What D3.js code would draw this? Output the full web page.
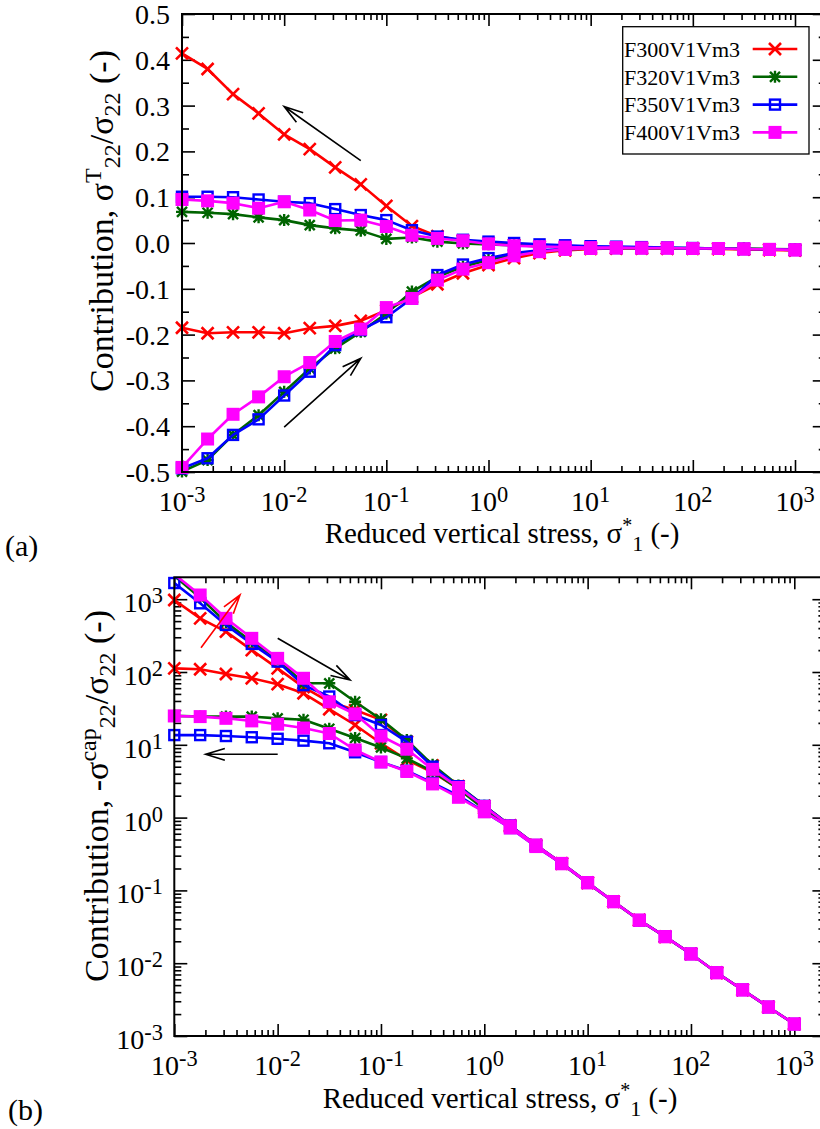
<!DOCTYPE html>
<html><head><meta charset="utf-8">
<script src="https://cdn.jsdelivr.net/npm/d3@7"></script>
<style>
body{margin:0;background:#fff}
svg{display:block}
text{font-family:"Liberation Serif","Times New Roman",serif;fill:#000}
</style>
</head><body>
<svg id="c" width="820" height="1129"></svg>
<script>
// ---------------- data ----------------
const xValues = [0.001,0.00178,0.00316,0.00562,0.01,0.0178,0.0316,0.0562,0.1,0.178,0.316,0.562,1,1.78,3.16,5.62,10,17.8,31.6,56.2,100,178,316,562,1000];
const seriesNames = ["F300V1Vm3","F320V1Vm3","F350V1Vm3","F400V1Vm3"];
const xTickExponents = [-3,-2,-1,0,1,2,3];
const topYTicks = [0.5,0.4,0.3,0.2,0.1,0.0,-0.1,-0.2,-0.3,-0.4,-0.5];
const botYTickExponents = [3,2,1,0,-1,-2,-3];

// (a) sigma^T_22 / sigma_22 : loading branch (stress increasing) and unloading branch (stress decreasing), listed at xValues
const topF300Load   = [-0.185,-0.197,-0.195,-0.195,-0.197,-0.186,-0.181,-0.170,-0.147,-0.118,-0.090,-0.066,-0.048,-0.033,-0.022,-0.016,-0.013,-0.012,-0.012,-0.012,-0.012,-0.013,-0.014,-0.015,-0.016];
const topF300Unload = [0.414,0.380,0.325,0.283,0.237,0.205,0.165,0.128,0.081,0.037,0.015,0.005,0.000,-0.004,-0.007,-0.009,-0.010,-0.011,-0.011,-0.012,-0.012,-0.013,-0.014,-0.015,-0.016];
const topF320Load   = [-0.499,-0.474,-0.419,-0.376,-0.325,-0.274,-0.230,-0.194,-0.154,-0.106,-0.074,-0.052,-0.037,-0.025,-0.018,-0.014,-0.012,-0.011,-0.011,-0.011,-0.011,-0.012,-0.012,-0.013,-0.014];
const topF320Unload = [0.068,0.066,0.063,0.056,0.050,0.039,0.032,0.027,0.009,0.012,0.003,-0.001,-0.003,-0.005,-0.007,-0.008,-0.009,-0.010,-0.010,-0.011,-0.011,-0.012,-0.012,-0.013,-0.014];
const topF350Load   = [-0.492,-0.470,-0.419,-0.385,-0.333,-0.281,-0.223,-0.190,-0.162,-0.121,-0.070,-0.047,-0.033,-0.022,-0.016,-0.013,-0.012,-0.011,-0.011,-0.011,-0.012,-0.012,-0.013,-0.014,-0.015];
const topF350Unload = [0.101,0.101,0.100,0.095,0.090,0.087,0.074,0.061,0.050,0.028,0.014,0.007,0.003,0.000,-0.003,-0.005,-0.007,-0.008,-0.009,-0.010,-0.011,-0.012,-0.013,-0.014,-0.015];
const topF400Load   = [-0.490,-0.428,-0.374,-0.336,-0.292,-0.261,-0.215,-0.188,-0.141,-0.121,-0.081,-0.057,-0.043,-0.028,-0.019,-0.014,-0.012,-0.011,-0.011,-0.011,-0.012,-0.012,-0.013,-0.014,-0.015];
const topF400Unload = [0.095,0.092,0.087,0.076,0.090,0.072,0.049,0.050,0.036,0.017,0.010,0.005,-0.002,-0.006,-0.008,-0.009,-0.010,-0.010,-0.011,-0.011,-0.012,-0.012,-0.013,-0.014,-0.015];

// (b) -sigma^cap_22 / sigma_22
const botF300Load   = [975,546,358,200,112,62,39,30,22,11,5.2,2.7,1.45,0.78,0.42,0.235,0.128,0.070,0.039,0.0232,0.0134,0.0074,0.0043,0.0025,0.00146];
const botF300Unload = [112,109,94,82,68,51,30.8,18.7,10.5,6.2,4.2,2.5,1.35,0.75,0.41,0.233,0.127,0.070,0.039,0.0231,0.0134,0.0074,0.0043,0.0025,0.00146];
const botF320Load   = [2100,1050,480,260,150,70,70,39,22.4,11.6,5.3,2.75,1.45,0.78,0.42,0.235,0.128,0.070,0.039,0.0232,0.0134,0.0074,0.0043,0.0025,0.00146];
const botF320Unload = [25,24.5,24.4,24.4,23.1,22.1,16.6,12.4,9.2,6.5,4.3,2.5,1.3,0.74,0.41,0.233,0.127,0.070,0.039,0.0231,0.0134,0.0074,0.0043,0.0025,0.00146];
const botF350Load   = [1668,878,443,243,139,66,46,25.6,18.7,11.0,5.0,2.7,1.45,0.78,0.42,0.235,0.128,0.070,0.039,0.0232,0.0134,0.0074,0.0043,0.0025,0.00146];
const botF350Unload = [13.6,13.6,13.2,12.7,12.1,11.4,10.5,7.9,5.8,4.4,3.0,2.0,1.2,0.72,0.40,0.232,0.127,0.070,0.039,0.0231,0.0134,0.0074,0.0043,0.0025,0.00146];
const botF400Load   = [2200,1142,546,290,154,82,39,26.5,13.2,8.7,4.6,2.6,1.42,0.77,0.42,0.235,0.128,0.070,0.039,0.0232,0.0134,0.0074,0.0043,0.0025,0.00146];
const botF400Unload = [24.9,24.4,23.1,21.3,19.2,17.0,14.3,8.5,5.8,4.3,2.9,1.9,1.2,0.72,0.40,0.232,0.127,0.070,0.039,0.0231,0.0134,0.0074,0.0043,0.0025,0.00146];

const topLoads = [topF300Load,topF320Load,topF350Load,topF400Load];
const topUnloads = [topF300Unload,topF320Unload,topF350Unload,topF400Unload];
const botLoads = [botF300Load,botF320Load,botF350Load,botF400Load];
const botUnloads = [botF300Unload,botF320Unload,botF350Unload,botF400Unload];

// ---------------- styles ----------------
const colors = ["#ff0000","#006400","#0000ff","#ff00ff"];
const markerTypes = ["x","star","square","filled"];

const svg = d3.select("#c");

function drawMarker(g, type, color, cx, cy){
  if(type==="x"){
    const s=6;
    g.append("path").attr("d",`M${cx-s},${cy-s}L${cx+s},${cy+s}M${cx-s},${cy+s}L${cx+s},${cy-s}`)
      .attr("stroke",color).attr("stroke-width",2.6).attr("fill","none");
  } else if(type==="star"){
    const s=5;
    g.append("path").attr("d",`M${cx-s},${cy-s}L${cx+s},${cy+s}M${cx-s},${cy+s}L${cx+s},${cy-s}M${cx-s-1},${cy}L${cx+s+1},${cy}M${cx},${cy-s-1}L${cx},${cy+s+1}`)
      .attr("stroke",color).attr("stroke-width",2.4).attr("fill","none");
  } else if(type==="square"){
    const s=5;
    g.append("rect").attr("x",cx-s).attr("y",cy-s).attr("width",2*s).attr("height",2*s)
      .attr("stroke",color).attr("stroke-width",2.4).attr("fill","none");
  } else {
    const s=6.5;
    g.append("rect").attr("x",cx-s).attr("y",cy-s).attr("width",2*s).attr("height",2*s)
      .attr("fill",color);
  }
}

function supText(sel, base, sup){
  sel.text(base);
  sel.append("tspan").attr("dy",-9).attr("font-size","0.8em").text(sup);
}

function arrow(g, x1,y1,x2,y2,color){
  const L=20, a=17*Math.PI/180;
  const ang=Math.atan2(y1-y2,x1-x2);
  const p1=[x2+L*Math.cos(ang+a), y2+L*Math.sin(ang+a)];
  const p2=[x2+L*Math.cos(ang-a), y2+L*Math.sin(ang-a)];
  g.append("path").attr("d",`M${x1},${y1}L${x2},${y2}M${p1[0]},${p1[1]}L${x2},${y2}L${p2[0]},${p2[1]}`)
    .attr("stroke",color).attr("stroke-width",1.6).attr("fill","none");
}

function drawPanel(cfg){
  const {x, y, left, right, top, bottom, loads, unloads, yTicks, yMinor, clipId} = cfg;
  const g = svg.append("g");
  svg.append("clipPath").attr("id",clipId).append("rect")
    .attr("x",left).attr("y",top).attr("width",right-left).attr("height",bottom-top);

  const xMajor = xTickExponents.map(e=>Math.pow(10,e));
  const xMinor = [];
  for(let e=-3;e<=3;e++) for(let m=2;m<=9;m++){ const v=m*Math.pow(10,e); if(x(v)<right-1) xMinor.push(v); }
  const axB = g.append("g").attr("transform",`translate(0,${bottom})`);
  axB.call(d3.axisBottom(x).tickValues(xMajor).tickSize(-12).tickFormat(""));
  axB.append("g").call(d3.axisBottom(x).tickValues(xMinor).tickSize(-6).tickFormat(""));
  const axT = g.append("g").attr("transform",`translate(0,${top})`);
  axT.call(d3.axisTop(x).tickValues(xMajor).tickSize(-12).tickFormat(""));
  axT.append("g").call(d3.axisTop(x).tickValues(xMinor).tickSize(-6).tickFormat(""));
  const axL = g.append("g").attr("transform",`translate(${left},0)`);
  axL.call(d3.axisLeft(y).tickValues(yTicks).tickSize(-13).tickFormat(""));
  axL.append("g").call(d3.axisLeft(y).tickValues(yMinor).tickSize(-7).tickFormat(""));
  const axR = g.append("g").attr("transform",`translate(${right},0)`);
  axR.call(d3.axisRight(y).tickValues(yTicks).tickSize(-13).tickFormat(""));
  axR.append("g").call(d3.axisRight(y).tickValues(yMinor).tickSize(-7).tickFormat(""));
  g.selectAll(".domain").remove();
  g.selectAll(".tick line").attr("stroke","#000").attr("stroke-width",1.6);

  const line = d3.line().x(d=>x(d[0])).y(d=>y(d[1]));
  const [d0,d1] = y.domain();
  const lo=Math.min(d0,d1), hi=Math.max(d0,d1);
  const yTop = y.invert(top);
  for(let s=0;s<4;s++){
    const pts = xValues.map((xv,i)=>[xv,loads[s][i]])
      .concat(xValues.map((xv,i)=>[xv,unloads[s][i]]).reverse());
    const sg = g.append("g");
    sg.append("path").attr("d",line(pts)).attr("clip-path",`url(#${clipId})`)
      .attr("fill","none").attr("stroke",colors[s]).attr("stroke-width",2.6).attr("stroke-linejoin","round");
    pts.forEach(p=>{ if(p[1]>=lo && p[1]<=Math.max(hi,yTop)) drawMarker(sg, markerTypes[s], colors[s], x(p[0]), y(p[1])); });
  }

  g.append("rect").attr("x",left).attr("y",top).attr("width",right-left).attr("height",bottom-top)
    .attr("fill","none").attr("stroke","#000").attr("stroke-width",2);

  xTickExponents.forEach(e=>{
    const t = g.append("text").attr("x",x(Math.pow(10,e))).attr("y",bottom+39)
      .attr("text-anchor","middle").attr("font-size",28);
    supText(t,"10",String(e));
  });
  return g;
}

function yTitle(g, cx, cy, pre, sup){
  const t = g.append("text").attr("transform",`translate(${cx},${cy}) rotate(-90)`)
    .attr("text-anchor","middle").attr("font-size",34);
  t.append("tspan").text(pre);
  t.append("tspan").attr("dy",-12).attr("font-size",24).text(sup);
  t.append("tspan").attr("dy",19).attr("font-size",24).text("22");
  t.append("tspan").attr("dy",-7).text("/σ");
  t.append("tspan").attr("dy",7).attr("font-size",24).text("22");
  t.append("tspan").attr("dy",-7).text(" (-)");
}

function xTitle(g, cx, by){
  const t = g.append("text").attr("x",cx).attr("y",by).attr("text-anchor","middle").attr("font-size",29);
  t.append("tspan").text("Reduced vertical stress, σ");
  t.append("tspan").attr("dy",-11).attr("font-size",20).text("*");
  t.append("tspan").attr("dy",19).attr("font-size",22).text("1");
  t.append("tspan").attr("dy",-8).text(" (-)");
}

// ---------------- panel (a) ----------------
const xA = d3.scaleLog().domain([1e-3,1e3]).range([182,795]);
const yA = d3.scaleLinear().domain([-0.5,0.5]).range([472,14]);
const gA = drawPanel({x:xA, y:yA, left:182, right:xA(2000), top:14, bottom:472,
  loads:topLoads, unloads:topUnloads, yTicks:topYTicks,
  yMinor:[0.45,0.35,0.25,0.15,0.05,-0.05,-0.15,-0.25,-0.35,-0.45], clipId:"clipA"});
topYTicks.forEach(v=>{
  gA.append("text").attr("x",170).attr("y",yA(v)+10).attr("text-anchor","end")
    .attr("font-size",28).text(v.toFixed(1));
});
arrow(gA, xA(0.0562), yA(0.18), xA(0.01), yA(0.298), "#000");
arrow(gA, xA(0.01), yA(-0.402), xA(0.0562), yA(-0.252), "#000");

const leg = gA.append("g");
leg.append("rect").attr("x",622.7).attr("y",26.7).attr("width",186.3).attr("height",127.3)
  .attr("fill","#fff").attr("stroke","#000").attr("stroke-width",1.3);
seriesNames.forEach((n,i)=>{
  const by = 56.7 + i*27.8;
  leg.append("text").attr("x",624).attr("y",by).attr("font-size",22).text(n);
  leg.append("line").attr("x1",752.7).attr("x2",797.3).attr("y1",by-7.7).attr("y2",by-7.7)
    .attr("stroke",colors[i]).attr("stroke-width",2.6);
  drawMarker(leg, markerTypes[i], colors[i], 775, by-7.7);
});

yTitle(gA, 113, 221, "Contribution, σ", "T");
xTitle(gA, 502, 543);
gA.append("text").attr("x",5).attr("y",556).attr("font-size",30).text("(a)");

// ---------------- panel (b) ----------------
const xB = d3.scaleLog().domain([1e-3,1e3]).range([174.3,794.3]);
const yB = d3.scaleLog().domain([1e-3,1e3]).range([1036,599.2]);
const yBMinor = [];
for(let e=-3;e<=3;e++) for(let m=2;m<=9;m++){ const v=m*Math.pow(10,e); if(v<2000) yBMinor.push(v); }
const gB = drawPanel({x:xB, y:yB, left:174.3, right:xB(2000), top:yB(2000), bottom:1036,
  loads:botLoads, unloads:botUnloads, yTicks:botYTickExponents.map(e=>Math.pow(10,e)),
  yMinor:yBMinor, clipId:"clipB"});
botYTickExponents.forEach(e=>{
  const t = gB.append("text").attr("x",163).attr("y",yB(Math.pow(10,e))+13).attr("text-anchor","end")
    .attr("font-size",28);
  supText(t,"10",String(e));
});
arrow(gB, 201, 647.7, 240, 595, "#ff0000");
arrow(gB, 277.7, 638.3, 350, 680, "#000");
arrow(gB, 277.7, 754.3, 205.7, 754.3, "#000");

yTitle(gB, 108, 796, "Contribution, -σ", "cap");
xTitle(gB, 500, 1108);
gB.append("text").attr("x",8).attr("y",1120).attr("font-size",30).text("(b)");
</script>
</body></html>
